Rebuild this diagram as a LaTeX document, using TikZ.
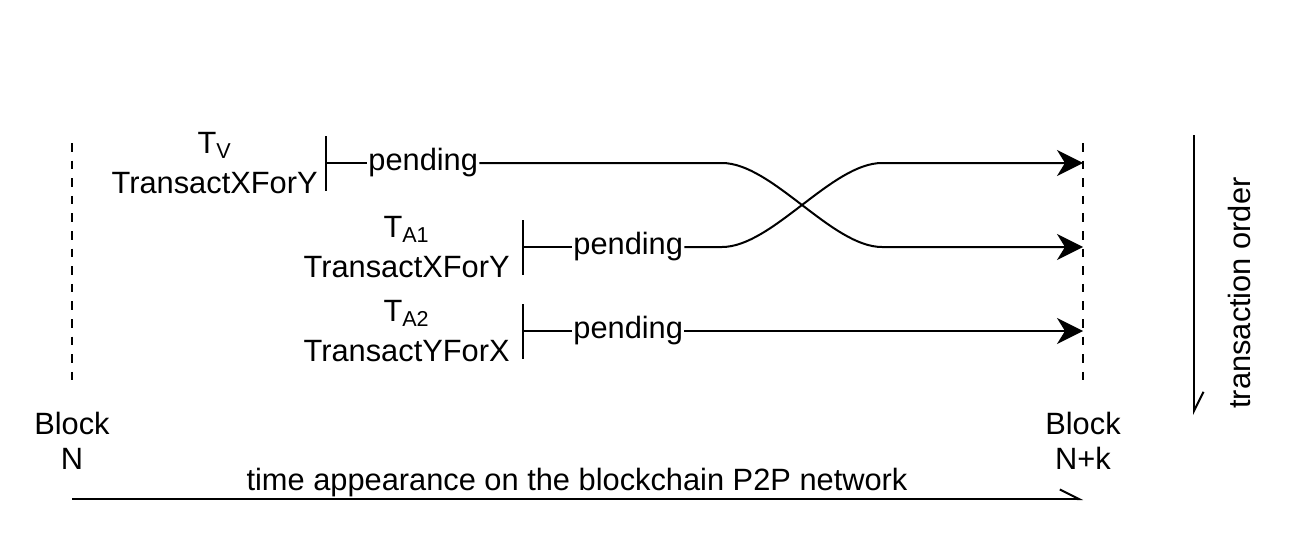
\documentclass[tikz,border=0pt]{standalone}
\usepackage{fontspec}
\setmainfont{Liberation Sans}
\usetikzlibrary{arrows.meta,positioning}
\begin{document}
\begin{tikzpicture}[x=0.5pt, y=-0.5pt, font=\fontsize{15.4}{17.5}\selectfont]
  \tikzstyle{txt} = [inner sep=0pt, align=center]
  \tikzstyle{tlabel} = [txt, font=\fontsize{15.4}{20}\selectfont]
  \tikzstyle{pend} = [inner sep=0.5pt]
  \tikzstyle{block} = [line width=1pt, dash pattern=on 4.3pt off 4.5pt]
  \tikzstyle{start} = [line width=1pt, {Bar[width=27.5pt]}-]
  \tikzstyle{arrow} = [line width=1pt, -{Stealth[length=13pt, width=13pt, inset=4pt]}]
  \tikzstyle{axis} = [line width=1pt, -{Straight Barb[harpoon, length=9.5pt, width=9.5pt]}]

  \useasboundingbox (0,0) rectangle (1290,546);

  \coordinate (nt) at (72,143);
  \coordinate (nb) at (72,388);
  \coordinate (kt) at (1083,143);
  \coordinate (kb) at (1083,388);
  \draw [block] (nt) -- (nb);
  \draw [block] (kt) -- (kb);
  \node (bn) [txt] at (72,441) {Block\\N};
  \node (bnk) [txt] at (1083,441) {Block\\N+k};

  \coordinate (s1) at (325,163);
  \coordinate (s2) at (522,247);
  \coordinate (s3) at (522,331);
  \coordinate (e1) at (1083,163);
  \coordinate (e2) at (1083,247);
  \coordinate (e3) at (1083,331);
  \coordinate (k1) at (722,163);
  \coordinate (k2) at (882,163);
  \coordinate (k3) at (722,247);
  \coordinate (k4) at (882,247);

  \node (tv) [tlabel, left=3.5pt of s1] {T\textsubscript{V}\\TransactXForY};
  \node (ta1) [tlabel, left=6pt of s2] {T\textsubscript{A1}\\TransactXForY};
  \node (ta2) [tlabel, left=6pt of s3] {T\textsubscript{A2}\\TransactYForX};
  \node (pv) [pend, right=21pt of s1] {pending};
  \node (pa1) [pend, right=25pt of s2] {pending};
  \node (pa2) [pend, right=25pt of s3] {pending};

  \draw [start] (s1) -- (pv);
  \draw [arrow] (pv) -- (k1) .. controls +(50,0) and +(-50,0) .. (k4) -- (e2);
  \draw [start] (s2) -- (pa1);
  \draw [arrow] (pa1) -- (k3) .. controls +(50,0) and +(-50,0) .. (k2) -- (e1);
  \draw [start] (s3) -- (pa2);
  \draw [arrow] (pa2) -- (e3);

  \coordinate (t0) at (72,499);
  \coordinate (t1) at (1083,499);
  \draw [axis] (t0) -- (t1);
  \node (time) [anchor=base] at (577,490) {time appearance on the blockchain P2P network};

  \coordinate (o0) at (1194,135);
  \coordinate (o1) at (1194,415);
  \draw [axis] (o0) -- (o1);
  \node (order) [rotate=90, anchor=base] at (1250,293) {transaction order};
\end{tikzpicture}
\end{document}
